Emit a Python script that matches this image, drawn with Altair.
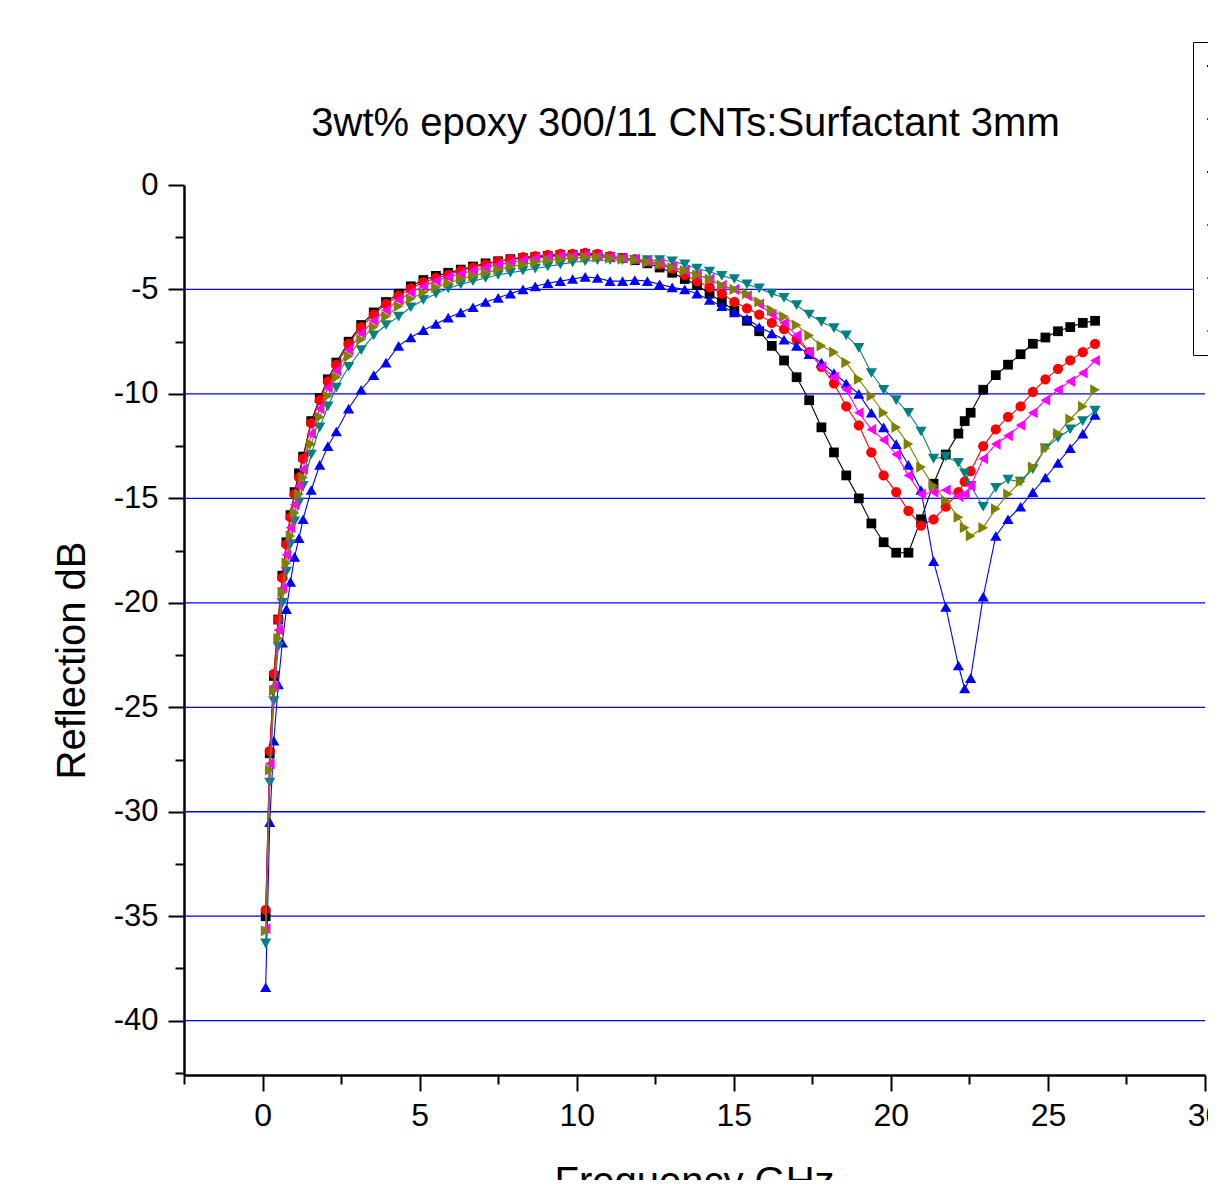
import altair as alt
import pandas as pd

FONT = "Liberation Sans"

# Frequency (GHz)
freq = [0.10, 0.23, 0.36, 0.50, 0.63, 0.76, 0.89, 1.02, 1.16, 1.29,
        1.55, 1.82, 2.08, 2.35, 2.74, 3.14, 3.54, 3.93, 4.33, 4.72,
        5.12, 5.52, 5.91, 6.31, 6.70, 7.10, 7.50, 7.89, 8.29, 8.68,
        9.08, 9.48, 9.87, 10.27, 10.66, 11.06, 11.46, 11.85, 12.25, 12.64,
        13.04, 13.44, 13.83, 14.23, 14.62, 15.02, 15.42, 15.81, 16.21, 16.60,
        17.00, 17.40, 17.79, 18.19, 18.58, 18.98, 19.38, 19.77, 20.17, 20.56,
        20.96, 21.36, 21.75, 22.15, 22.35, 22.54, 22.94, 23.34, 23.73, 24.13,
        24.52, 24.92, 25.32, 25.71, 26.11, 26.50]

s_black = [-35.0, -27.2, -23.5, -20.8, -18.7, -17.1, -15.8, -14.7, -13.8, -13.0,
           -11.3, -10.2, -9.3, -8.5, -7.5, -6.7, -6.1, -5.6, -5.2, -4.85,
           -4.55, -4.35, -4.2, -4.05, -3.9, -3.75, -3.65, -3.55, -3.5, -3.45,
           -3.4, -3.35, -3.35, -3.3, -3.35, -3.45, -3.5, -3.6, -3.75, -3.95,
           -4.2, -4.5, -4.8, -5.2, -5.6, -6.0, -6.5, -7.0, -7.7, -8.4,
           -9.2, -10.3, -11.6, -12.8, -13.9, -15.0, -16.2, -17.1, -17.6, -17.6,
           -16.0, -14.3, -12.9, -11.9, -11.3, -10.9, -9.8, -9.1, -8.6, -8.1,
           -7.6, -7.3, -7.0, -6.8, -6.6, -6.5]

s_red = [-34.7, -27.1, -23.4, -20.8, -18.8, -17.2, -15.9, -14.8, -14.0, -13.1,
         -11.4, -10.3, -9.4, -8.6, -7.6, -6.8, -6.2, -5.7, -5.3, -4.95,
         -4.65, -4.45, -4.3, -4.1, -3.95, -3.8, -3.65, -3.55, -3.45, -3.4,
         -3.35, -3.3, -3.3, -3.25, -3.3, -3.4, -3.5, -3.55, -3.65, -3.8,
         -4.0, -4.3, -4.6, -4.9, -5.2, -5.6, -5.9, -6.2, -6.6, -6.9,
         -7.4, -8.0, -8.7, -9.5, -10.6, -11.5, -12.8, -13.9, -14.7, -15.6,
         -16.3, -16.0, -15.4, -14.7, -14.2, -13.7, -12.5, -11.7, -11.1, -10.6,
         -9.9, -9.3, -8.8, -8.4, -8.0, -7.6]

s_blue = [-38.4, -30.5, -26.6, -23.9, -21.9, -20.3, -19.0, -17.8, -16.9, -16.0,
          -14.6, -13.4, -12.5, -11.8, -10.7, -9.8, -9.1, -8.5, -7.7, -7.3,
          -6.95, -6.65, -6.35, -6.1, -5.85, -5.6, -5.4, -5.2, -5.0, -4.85,
          -4.7, -4.6, -4.5, -4.4, -4.45, -4.6, -4.6, -4.55, -4.6, -4.75,
          -4.9, -5.0, -5.2, -5.5, -5.8, -6.1, -6.4, -6.8, -7.1, -7.4,
          -7.7, -8.1, -8.5, -9.0, -9.5, -10.0, -10.9, -11.6, -12.4, -13.4,
          -14.6, -18.0, -20.2, -23.0, -24.1, -23.6, -19.7, -16.8, -16.0, -15.4,
          -14.7, -14.0, -13.3, -12.6, -11.9, -11.0]

s_teal = [-36.3, -28.6, -24.7, -22.1, -20.0, -18.5, -17.2, -16.1, -15.2, -14.4,
          -12.9, -11.6, -10.6, -9.7, -8.7, -7.9, -7.2, -6.7, -6.3, -5.85,
          -5.5, -5.2, -4.95, -4.75, -4.6, -4.45, -4.3, -4.2, -4.1, -4.0,
          -3.9, -3.8, -3.7, -3.65, -3.6, -3.6, -3.6, -3.6, -3.6, -3.6,
          -3.65, -3.8, -4.0, -4.15, -4.35, -4.5, -4.75, -4.95, -5.2, -5.4,
          -5.75, -6.2, -6.55, -6.85, -7.2, -7.8, -9.0, -9.8, -10.3, -10.9,
          -11.8, -13.1, -13.0, -13.3, -13.8, -14.4, -15.4, -14.5, -14.1, -14.2,
          -13.6, -12.6, -12.1, -11.7, -11.3, -10.8]

s_magenta = [-35.6, -27.7, -24.0, -21.3, -19.3, -17.7, -16.4, -15.3, -14.4, -13.6,
             -11.9, -10.7, -9.7, -8.9, -7.9, -7.1, -6.5, -6.0, -5.5, -5.15,
             -4.85, -4.6, -4.4, -4.25, -4.1, -3.95, -3.8, -3.7, -3.6, -3.5,
             -3.45, -3.4, -3.4, -3.35, -3.4, -3.45, -3.5, -3.55, -3.65, -3.75,
             -3.9, -4.1, -4.3, -4.5, -4.8, -5.0, -5.3, -5.7, -6.2, -6.6,
             -7.2, -8.0, -8.7, -9.2, -9.8, -10.9, -11.7, -12.2, -12.9, -13.9,
             -14.8, -14.7, -14.6, -14.9, -14.8, -14.4, -13.1, -12.4, -12.0, -11.5,
             -10.9, -10.3, -9.8, -9.4, -9.0, -8.4]

s_olive = [-35.7, -28.0, -24.2, -21.7, -19.5, -18.1, -16.8, -15.7, -14.8, -14.0,
           -12.4, -11.1, -10.1, -9.2, -8.2, -7.4, -6.8, -6.3, -5.8, -5.45,
           -5.15, -4.9, -4.7, -4.5, -4.35, -4.2, -4.05, -3.9, -3.8, -3.7,
           -3.6, -3.55, -3.5, -3.45, -3.45, -3.5, -3.55, -3.6, -3.7, -3.8,
           -3.95, -4.1, -4.3, -4.5, -4.8, -5.0, -5.2, -5.6, -6.0, -6.3,
           -6.7, -7.2, -7.7, -8.0, -8.5, -9.3, -10.1, -10.9, -11.6, -12.4,
           -13.5, -14.4, -15.1, -15.9, -16.4, -16.8, -16.4, -15.5, -14.8, -14.2,
           -13.5, -12.6, -11.9, -11.2, -10.6, -9.8]

series_names = ["Series 1", "Series 2", "Series 3", "Series 4", "Series 5", "Series 6"]
series_values = [s_black, s_red, s_blue, s_teal, s_magenta, s_olive]
series_colors = ["#000000", "#ff0000", "#0000ff", "#008080", "#ff00ff", "#808000"]
series_shapes = ["square", "circle", "triangle-up", "triangle-down", "triangle-left", "triangle-right"]
series_sizes = [95, 105, 125, 125, 125, 125]

x_major_ticks = [0, 5, 10, 15, 20, 25, 30]
x_minor_ticks = [-2.5, 2.5, 7.5, 12.5, 17.5, 22.5, 27.5]
y_major_ticks = [0, -5, -10, -15, -20, -25, -30, -35, -40]
y_minor_ticks = [-2.5, -7.5, -12.5, -17.5, -22.5, -27.5, -32.5, -37.5, -42.5]
grid_levels = [-5, -10, -15, -20, -25, -30, -35, -40]

rows = []
for name, vals in zip(series_names, series_values):
    for f, v in zip(freq, vals):
        rows.append({"series": name, "freq": f, "db": v})
df = pd.DataFrame(rows)

x_scale = alt.Scale(domain=[-2.5, 30], nice=False, zero=False)
y_scale = alt.Scale(domain=[-42.6, 0], nice=False, zero=False)

x_major = alt.Axis(orient="bottom", values=x_major_ticks, tickSize=16, tickWidth=2,
                   tickColor="black", domain=True, domainColor="black", domainWidth=2.5,
                   labelFont=FONT, labelFontSize=32, labelColor="black", labelPadding=9,
                   labelFlush=False, labelOverlap=False, grid=False,
                   title="Frequency GHz", titleFont=FONT, titleFontSize=40,
                   titleFontWeight="normal", titleColor="black",
                   titleX=510, titleY=119, titleAlign="center", titleBaseline="alphabetic")
x_minor = alt.Axis(orient="bottom", values=x_minor_ticks, tickSize=9, tickWidth=2,
                   tickColor="black", labels=False, domain=False, grid=False, title=None)
y_major = alt.Axis(orient="left", values=y_major_ticks, tickSize=16, tickWidth=2,
                   tickColor="black", domain=True, domainColor="black", domainWidth=2.5,
                   labelFont=FONT, labelFontSize=31, labelColor="black", labelPadding=10,
                   labelExpr="'' + datum.value", labelFlush=False, labelOverlap=False,
                   grid=False, title="Reflection dB", titleFont=FONT, titleFontSize=40,
                   titleFontWeight="normal", titleColor="black", titleAngle=270,
                   titleX=-100, titleY=475, titleAlign="center", titleBaseline="alphabetic")
y_minor = alt.Axis(orient="left", values=y_minor_ticks, tickSize=9, tickWidth=2,
                   tickColor="black", labels=False, domain=False, grid=False, title=None)

legend = alt.Legend(orient="none", legendX=1009, legendY=-143, direction="vertical",
                    title=None, padding=8, strokeColor="black",
                    fillColor="white", symbolType="stroke", symbolSize=400,
                    symbolStrokeWidth=2, labelFont=FONT, labelFontSize=32,
                    labelColor="black", rowPadding=21)

grid = alt.Chart(pd.DataFrame({"level": grid_levels})).mark_rule(
    color="#0000ff", strokeWidth=1.3
).encode(y=alt.Y("level:Q", scale=y_scale, axis=y_major))

minor = alt.Chart(df).mark_point(opacity=0).encode(
    x=alt.X("freq:Q", scale=x_scale, axis=x_minor),
    y=alt.Y("db:Q", scale=y_scale, axis=y_minor),
)

layers = [grid, minor]
for i, name in enumerate(series_names):
    base = alt.Chart(df).transform_filter(alt.datum.series == name)
    line = base.mark_line(strokeWidth=1.1).encode(
        x=alt.X("freq:Q", scale=x_scale, axis=(x_major if i == 0 else None)),
        y=alt.Y("db:Q", scale=y_scale, axis=None),
        color=alt.Color("series:N",
                        scale=alt.Scale(domain=series_names, range=series_colors),
                        legend=legend),
    )
    pts = base.mark_point(shape=series_shapes[i], filled=True, size=series_sizes[i],
                          opacity=1, color=series_colors[i]).encode(
        x=alt.X("freq:Q", scale=x_scale, axis=None),
        y=alt.Y("db:Q", scale=y_scale, axis=None),
    )
    layers += [line, pts]

chart = alt.layer(*layers).resolve_axis(x="independent", y="independent").properties(
    width=1021,
    height=890,
    background="white",
    padding={"left": 176, "top": 177, "right": 3, "bottom": 105},
    autosize=alt.AutoSizeParams(type="none"),
    title=alt.TitleParams(
        text="3wt% epoxy 300/11 CNTs:Surfactant 3mm",
        font=FONT, fontSize=40, fontWeight="normal", color="black",
        anchor="middle", frame="group", offset=-134, baseline="alphabetic", dx=-9,
    ),
).configure_axis(
    domain=False, grid=False
).configure_view(stroke="transparent", strokeOpacity=0)

chart.save("out.html", embed_options={"renderer": "svg", "actions": False})
